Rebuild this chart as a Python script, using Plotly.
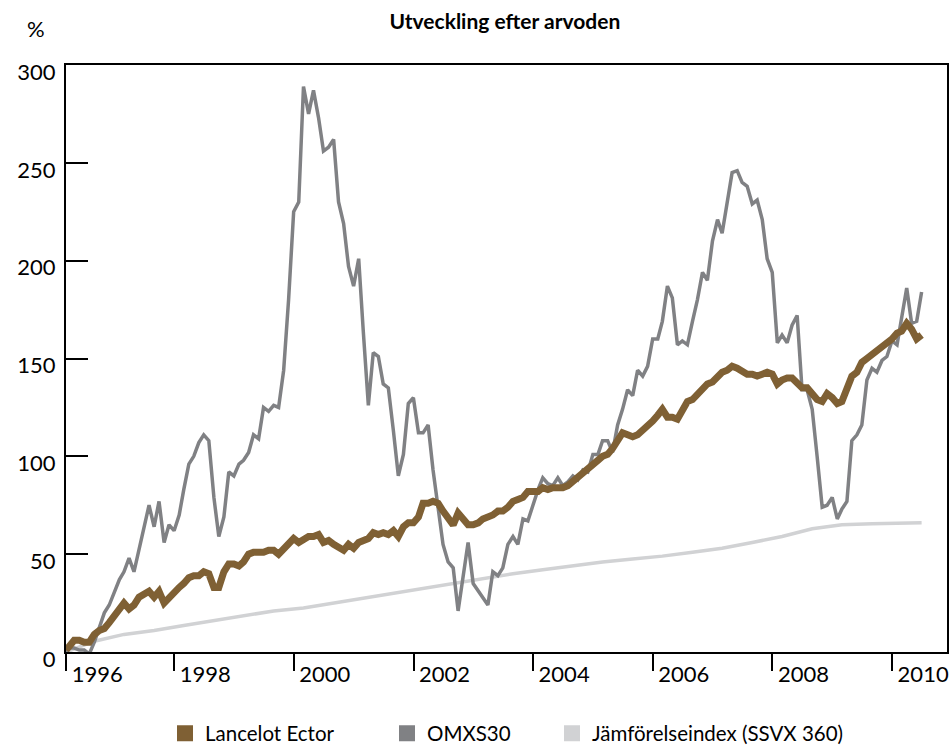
import pandas as pd
import plotly.graph_objects as go

# ---------------- data ----------------
start_date = "1996-03-12"
month_ends = pd.date_range("1996-03-31", periods=172, freq=pd.offsets.MonthEnd())
dates = [start_date] + [d.strftime("%Y-%m-%d") for d in month_ends]

lancelot = [
    1, 3, 6, 6, 5, 5, 9, 11, 12, 15,
    18, 22, 25, 22, 24, 28, 30, 31, 28, 31,
    25, 28, 30, 33, 35, 38, 39, 39, 41, 40,
    33, 33, 41, 45, 45, 44, 46, 50, 51, 51,
    51, 52, 52, 50, 53, 56, 58, 56, 58, 59,
    59, 60, 56, 57, 55, 53, 52, 55, 53, 56,
    57, 58, 61, 60, 61, 60, 62, 59, 64, 66,
    66, 69, 76, 76, 77, 76, 72, 69, 65, 71,
    68, 65, 65, 66, 68, 69, 70, 72, 72, 74,
    77, 78, 79, 82, 82, 82, 84, 83, 84, 84,
    84, 85, 87, 89, 91, 93, 96, 98, 100, 101,
    104, 109, 112, 111, 110, 111, 113, 116, 118, 121,
    124, 120, 120, 119, 123, 128, 129, 132, 135, 137,
    138, 141, 143, 144, 146, 145, 143, 142, 142, 141,
    142, 143, 142, 137, 139, 140, 140, 138, 135, 135,
    132, 129, 128, 132, 130, 127, 128, 136, 141, 143,
    148, 150, 152, 154, 156, 157, 160, 163, 164, 168,
    165, 160, 162,
]

omxs30 = [
    0, 2, 2, 1, 1, -1, 5, 12, 20, 24,
    30, 37, 41, 48, 41, 52, 64, 75, 64, 77,
    56, 65, 62, 70, 83, 96, 100, 107, 111, 108,
    79, 59, 69, 92, 90, 96, 98, 102, 111, 109,
    125, 123, 126, 125, 144, 180, 225, 230, 289, 275,
    287, 273, 256, 258, 262, 230, 219, 197, 187, 201,
    164, 126, 153, 151, 137, 135, 113, 90, 101, 127,
    130, 112, 112, 116, 93, 75, 55, 46, 43, 21,
    38, 56, 35, 31, 28, 24, 41, 39, 43, 55,
    59, 55, 68, 67, 75, 83, 89, 86, 85, 89,
    85, 87, 90, 88, 93, 92, 101, 101, 108, 108,
    102, 116, 124, 134, 131, 144, 141, 146, 160, 160,
    169, 187, 181, 157, 159, 157, 169, 180, 194, 190,
    210, 221, 214, 231, 245, 246, 240, 238, 229, 231,
    221, 201, 194, 158, 162, 158, 167, 172, 134, 134,
    124, 100, 74, 75, 79, 68, 73, 77, 108, 111,
    116, 139, 145, 143, 149, 151, 159, 157, 171, 186,
    168, 169, 184,
]

jmf_dates = [
    "1996-03-12", "1996-08-31", "1997-02-28", "1997-08-31", "1998-02-28",
    "1998-08-31", "1999-02-28", "1999-08-31", "2000-02-29", "2000-08-31",
    "2001-02-28", "2001-08-31", "2002-02-28", "2002-08-31", "2003-02-28",
    "2003-08-31", "2004-02-29", "2004-08-31", "2005-02-28", "2005-08-31",
    "2006-02-28", "2006-08-31", "2007-02-28", "2007-08-31", "2008-02-29",
    "2008-08-31", "2009-02-28", "2009-08-31", "2010-02-28", "2010-06-30",
]
jmf = [
    0, 5.5, 9, 11, 13.5, 16, 18.5, 21, 22.5, 25,
    27.5, 30, 32.5, 35, 37.5, 40, 42, 44, 46, 47.5,
    49, 51, 53, 56, 59, 63, 65, 65.5, 66, 66,
]

tick_dates = ["1996-03-12", "1998-01-01", "2000-01-01", "2002-01-01",
              "2004-01-01", "2006-01-01", "2008-01-01", "2010-01-01"]
tick_labels = ["1996", "1998", "2000", "2002", "2004", "2006", "2008", "2010"]
y_ticks = [0, 50, 100, 150, 200, 250, 300]

names = ["Lancelot Ector", "OMXS30", "Jämförelseindex (SSVX 360)"]
colors = ["#7f6034", "#808184", "#d1d2d4"]

FONT = "Lato, 'Noto Sans', sans-serif"
x_range = ["1996-03-11", "2010-12-02"]

fig = go.Figure()
fig.add_trace(go.Scatter(x=jmf_dates, y=jmf, mode="lines",
                         line=dict(color=colors[2], width=3.5), showlegend=False))
fig.add_trace(go.Scatter(x=dates, y=omxs30, mode="lines",
                         line=dict(color=colors[1], width=3.5), showlegend=False))
fig.add_trace(go.Scatter(x=dates, y=lancelot, mode="lines",
                         line=dict(color=colors[0], width=7), showlegend=False))

legend_ids = ["legend", "legend2", "legend3"]
for nm, col, lg in zip(names, colors, legend_ids):
    fig.add_trace(go.Scatter(x=[None], y=[None], mode="markers", name=nm,
                             marker=dict(symbol="square", size=16, color=col),
                             legend=lg, xaxis="x2"))

leg_common = dict(orientation="h", xref="container", yref="container",
                  yanchor="middle", y=1 - 733.5 / 747, xanchor="left",
                  font=dict(family=FONT, size=20.5, color="black"),
                  bgcolor="rgba(0,0,0,0)")

fig.update_layout(
    width=949, height=747,
    margin=dict(l=66, r=2, t=65, b=95, autoexpand=False),
    paper_bgcolor="white", plot_bgcolor="white",
    font=dict(family=FONT, color="black"),
    hovermode=False,
    title=dict(text="<b>Utveckling efter arvoden</b>", x=0.532, xref="container",
               xanchor="center", y=1 - 22 / 747, yref="container", yanchor="middle",
               font=dict(family=FONT, size=21, color="black")),
    xaxis=dict(type="date", range=x_range, tickmode="array", tickvals=tick_dates,
               showticklabels=False, ticks="outside", ticklen=17, tickwidth=2,
               tickcolor="black", showline=True, linewidth=2, linecolor="black",
               mirror=True, showgrid=False, zeroline=False, automargin=False),
    xaxis2=dict(type="date", range=x_range, overlaying="x", anchor="y", side="bottom",
                tickmode="array", tickvals=tick_dates, ticktext=tick_labels,
                ticks="", showline=False, showgrid=False, zeroline=False,
                ticklabelshift=31, ticklabelstandoff=7, automargin=False,
                tickfont=dict(family=FONT, size=22, color="black")),
    yaxis=dict(range=[0, 300], tickmode="array", tickvals=y_ticks,
               ticks="inside", ticklen=22, tickwidth=2, tickcolor="black",
               showline=True, linewidth=2, linecolor="black", mirror=True,
               showgrid=False, zeroline=False, ticklabelshift=7,
               ticklabelstandoff=4, automargin=False,
               tickfont=dict(family=FONT, size=22, color="black")),
    legend=dict(leg_common, x=165 / 949),
    legend2=dict(leg_common, x=387 / 949),
    legend3=dict(leg_common, x=552 / 949),
    annotations=[dict(text="%", x=-0.034, y=1.063, xref="paper", yref="paper",
                      xanchor="center", yanchor="middle", showarrow=False,
                      font=dict(family=FONT, size=22, color="black"))],
)

fig.write_html(
    "out.html",
    config={"displayModeBar": False},
    post_script="document.body.style.margin='0';document.body.style.overflow='hidden';",
)
